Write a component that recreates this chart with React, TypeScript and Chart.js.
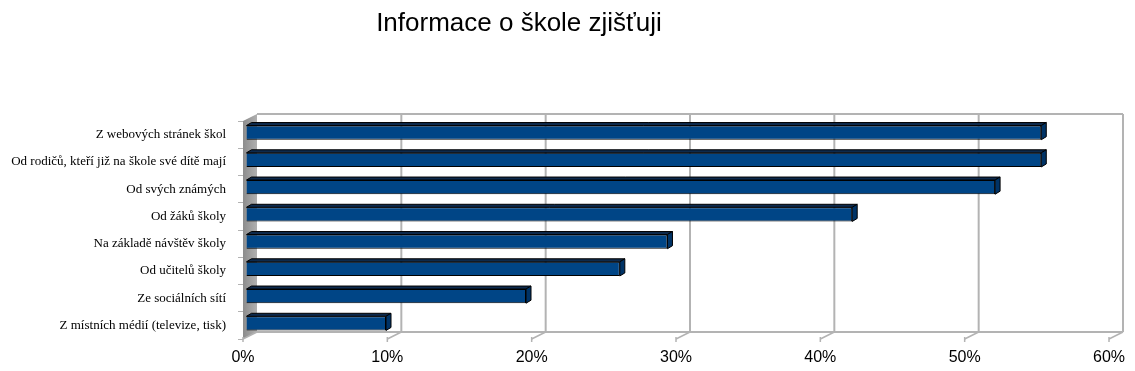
import React, { useEffect, useRef } from "react";
import { Chart, registerables } from "chart.js";

Chart.register(...registerables);

const TITLE = "Informace o škole zjišťuji";
const categories = [
  "Z webových stránek škol",
  "Od rodičů, kteří již na škole své dítě mají",
  "Od svých známých",
  "Od žáků školy",
  "Na základě návštěv školy",
  "Od učitelů školy",
  "Ze sociálních sítí",
  "Z místních médií (televize, tisk)",
];
const values = [55.1, 55.1, 51.9, 42.0, 29.2, 25.9, 19.4, 9.7];
const xTicks = [0, 10, 20, 30, 40, 50, 60];

const DX = 14;
const DY = -7;
const GRID = "#b3b3b3";

const wallPlugin = {
  id: "wall3d",
  beforeDatasetsDraw(chart: any) {
    const { ctx, chartArea } = chart;
    const xs = chart.scales.x;
    const { left, right, top, bottom } = chartArea;
    ctx.save();
    const grad = ctx.createLinearGradient(left, 0, left + DX, 0);
    grad.addColorStop(0, "#8c8c8c");
    grad.addColorStop(1, "#b0b0b0");
    ctx.fillStyle = grad;
    ctx.beginPath();
    ctx.moveTo(left, top);
    ctx.lineTo(left + DX, top + DY);
    ctx.lineTo(left + DX, bottom + DY);
    ctx.lineTo(left, bottom);
    ctx.closePath();
    ctx.fill();
    ctx.strokeStyle = GRID;
    ctx.lineWidth = 2;
    xTicks.forEach((v) => {
      const px = xs.getPixelForValue(v) + DX;
      if (v === 0) return;
      ctx.beginPath();
      ctx.moveTo(px, top + DY);
      ctx.lineTo(px, bottom + DY);
      ctx.stroke();
    });
    ctx.beginPath();
    ctx.moveTo(left + DX, top + DY);
    ctx.lineTo(right + DX, top + DY);
    ctx.stroke();
    ctx.beginPath();
    ctx.moveTo(left + DX, bottom + DY);
    ctx.lineTo(right + DX, bottom + DY);
    ctx.stroke();
    ctx.lineWidth = 1.5;
    xTicks.forEach((v) => {
      const px = xs.getPixelForValue(v);
      ctx.beginPath();
      ctx.moveTo(px, bottom);
      ctx.lineTo(px + DX, bottom + DY);
      ctx.stroke();
      ctx.beginPath();
      ctx.moveTo(px, bottom - 2);
      ctx.lineTo(px, bottom + 3);
      ctx.stroke();
    });
    ctx.restore();
    ctx.save();
    ctx.translate(3, -2);
  },
  afterDatasetsDraw(chart: any) {
    const { ctx } = chart;
    const meta = chart.getDatasetMeta(0);
    const d = 5;
    const dy = -3;
    meta.data.forEach((bar: any) => {
      const { x, y, base, height } = bar.getProps(["x", "y", "base", "height"], true);
      const t = y - height / 2;
      const b = y + height / 2;
      ctx.lineWidth = 1;
      ctx.strokeStyle = "#000000";
      ctx.fillStyle = "#0d2a4d";
      ctx.beginPath();
      ctx.moveTo(base, t);
      ctx.lineTo(base + d, t + dy);
      ctx.lineTo(x + d, t + dy);
      ctx.lineTo(x, t);
      ctx.closePath();
      ctx.fill();
      ctx.stroke();
      ctx.fillStyle = "#003366";
      ctx.beginPath();
      ctx.moveTo(x, t);
      ctx.lineTo(x + d, t + dy);
      ctx.lineTo(x + d, b + dy);
      ctx.lineTo(x, b);
      ctx.closePath();
      ctx.fill();
      ctx.stroke();
    });
    ctx.restore();
  },
  afterDraw(chart: any) {
    const { ctx } = chart;
    ctx.save();
    ctx.fillStyle = "#000";
    ctx.font = "26px 'Liberation Sans', Arial, sans-serif";
    ctx.textAlign = "center";
    ctx.textBaseline = "alphabetic";
    ctx.fillText(TITLE, 519, 31);
    ctx.restore();
  },
};

export default function App() {
  const ref = useRef<HTMLCanvasElement>(null);
  useEffect(() => {
    if (!ref.current) return;
    const chart = new Chart(ref.current, {
      type: "bar",
      data: {
        labels: categories,
        datasets: [
          {
            data: values,
            backgroundColor: "#004586",
            borderColor: "#000000",
            borderWidth: 1,
            barPercentage: 0.52,
            categoryPercentage: 1,
          },
        ],
      },
      plugins: [wallPlugin],
      options: {
        indexAxis: "y",
        responsive: false,
        animation: false,
        layout: { padding: { top: 121, right: 26, left: 0, bottom: 0 } },
        plugins: {
          legend: { display: false },
          title: { display: false },
          tooltip: { enabled: false },
        },
        scales: {
          x: {
            min: 0,
            max: 60,
            afterBuildTicks: (s: any) => {
              s.ticks = xTicks.map((v) => ({ value: v }));
            },
            afterFit: (s: any) => {
              s.height = 32;
            },
            ticks: {
              callback: (v: any) => v + "%",
              color: "#000",
              font: { family: "'Liberation Sans', Arial, sans-serif", size: 16 },
              padding: 4,
              maxRotation: 0,
            },
            grid: { display: true, drawOnChartArea: false, drawTicks: true, tickLength: 5, color: "rgba(0,0,0,0)" },
            border: { display: false },
          },
          y: {
            afterFit: (s: any) => {
              s.width = 243;
            },
            ticks: {
              color: "#000",
              font: { family: "'Liberation Serif', 'Times New Roman', serif", size: 13 },
              padding: 12,
            },
            grid: { offset: true, drawOnChartArea: false, tickLength: 5, color: GRID, lineWidth: 1 },
            border: { display: false },
          },
        },
      },
    });
    return () => chart.destroy();
  }, []);
  return (
    <div style={{ position: "fixed", left: 0, top: 0, width: 1135, height: 371, background: "#fff" }}>
      <canvas ref={ref} width={1135} height={371} style={{ width: 1135, height: 371 }} />
    </div>
  );
}
